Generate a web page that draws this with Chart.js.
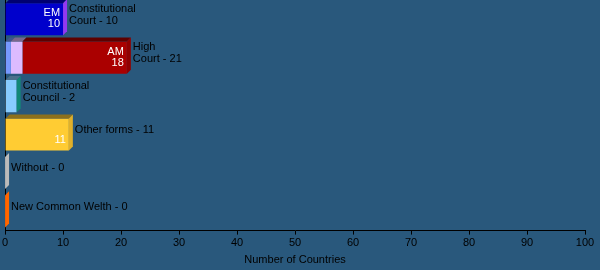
<!DOCTYPE html>
<html>
<head>
<meta charset="utf-8">
<script src="https://cdn.jsdelivr.net/npm/chart.js@4/dist/chart.umd.min.js"></script>
<style>
  html, body { margin: 0; padding: 0; background: #29587c; }
  #wrap { width: 600px; height: 270px; }
</style>
</head>
<body>
<div id="wrap"><canvas id="c" width="600" height="270"></canvas></div>
<script>
// ---- data ----
const categories = ['Constitutional Court', 'High Court', 'Constitutional Council', 'Other forms', 'Without', 'New Common Welth'];
const labelLines = [['Constitutional', 'Court'], ['High', 'Court'], ['Constitutional', 'Council'], ['Other forms'], ['Without'], ['New Common Welth']];
const seg1Values = [10, 1, 2, 11, 0, 0];
const seg2Values = [0, 2, 0, 0, 0, 0];
const seg3Values = [0, 18, 0, 0, 0, 0];
const seg1LabelTop = ['EM', '', '', '', '', ''];
const seg1LabelBottom = ['10', '', '', '11', '', ''];
const seg2LabelTop = ['', '', '', '', '', ''];
const seg2LabelBottom = ['', '', '', '', '', ''];
const seg3LabelTop = ['', 'AM', '', '', '', ''];
const seg3LabelBottom = ['', '18', '', '', '', ''];
const xTicks = [0, 10, 20, 30, 40, 50, 60, 70, 80, 90, 100];
const xTitle = 'Number of Countries';

// ---- styles ----
const BG = '#29587c';
const seg1Colors = ['#0000cc', '#7799ff', '#88ccff', '#ffcc33', '#aaaaaa', '#ff6600'];
const seg2Colors = ['#ddbbff', '#ddbbff', '#ddbbff', '#ddbbff', '#ddbbff', '#ddbbff'];
const seg3Colors = ['#aa0000', '#aa0000', '#aa0000', '#aa0000', '#aa0000', '#aa0000'];
const sideColors = ['#9238f2', '#900000', '#118877', '#e0b02a', '#bbbbbb', '#ff6600'];
const DEPTH = 4;
const FONT = '11px "Liberation Sans", Arial, sans-serif';

const totals = categories.map((_, i) => seg1Values[i] + seg2Values[i] + seg3Values[i]);
const innerTop = [seg1LabelTop, seg2LabelTop, seg3LabelTop];
const innerBottom = [seg1LabelBottom, seg2LabelBottom, seg3LabelBottom];

function darken(hex, f) {
  const n = parseInt(hex.slice(1), 16);
  const r = Math.round(((n >> 16) & 255) * f), g = Math.round(((n >> 8) & 255) * f), b = Math.round((n & 255) * f);
  return 'rgb(' + r + ',' + g + ',' + b + ')';
}

const bgPlugin = {
  id: 'bg',
  beforeDraw(chart) {
    const ctx = chart.ctx;
    ctx.save();
    ctx.fillStyle = BG;
    ctx.fillRect(0, 0, chart.width, chart.height);
    ctx.restore();
  }
};

const threeD = {
  id: 'threeD',
  afterDatasetsDraw(chart) {
    const ctx = chart.ctx;
    const d = DEPTH;
    ctx.save();
    const n = categories.length;
    const dsCount = chart.data.datasets.length;
    // top faces
    for (let di = 0; di < dsCount; di++) {
      const meta = chart.getDatasetMeta(di);
      meta.data.forEach((el, i) => {
        const p = el.getProps(['x', 'y', 'base', 'height'], true);
        const x0 = Math.min(p.base, p.x), x1 = Math.max(p.base, p.x);
        if (x1 - x0 < 0.5) return;
        const top = p.y - p.height / 2;
        const col = chart.data.datasets[di].backgroundColor[i];
        ctx.fillStyle = darken(col, 0.55);
        ctx.beginPath();
        ctx.moveTo(x0, top);
        ctx.lineTo(x0 + d, top - d);
        ctx.lineTo(x1 + d, top - d);
        ctx.lineTo(x1, top);
        ctx.closePath();
        ctx.fill();
      });
    }
    // side faces on the outermost segment
    for (let i = 0; i < n; i++) {
      let outer = 0;
      for (let di = 0; di < dsCount; di++) {
        if (chart.data.datasets[di].data[i] > 0) outer = di;
      }
      const el = chart.getDatasetMeta(outer).data[i];
      const p = el.getProps(['x', 'y', 'base', 'height'], true);
      const x1 = Math.max(p.base, p.x);
      const top = p.y - p.height / 2, bot = p.y + p.height / 2;
      ctx.fillStyle = sideColors[i];
      ctx.beginPath();
      ctx.moveTo(x1, top);
      ctx.lineTo(x1 + d, top - d);
      ctx.lineTo(x1 + d, bot - d);
      ctx.lineTo(x1, bot);
      ctx.closePath();
      ctx.fill();
      // outer label
      const lines = labelLines[i].slice();
      lines[lines.length - 1] = lines[lines.length - 1] + ' - ' + totals[i];
      ctx.fillStyle = '#000000';
      ctx.font = FONT;
      ctx.textAlign = 'left';
      ctx.textBaseline = 'middle';
      const lh = 12;
      const cy = top + 11.5;
      const start = cy - (lines.length - 1) * lh / 2;
      lines.forEach((t, k) => ctx.fillText(t, x1 + d + 2, start + k * lh));
    }
    // inner labels
    ctx.fillStyle = '#ffffff';
    ctx.font = FONT;
    ctx.textAlign = 'right';
    ctx.textBaseline = 'middle';
    for (let di = 0; di < dsCount; di++) {
      const meta = chart.getDatasetMeta(di);
      meta.data.forEach((el, i) => {
        const p = el.getProps(['x', 'y', 'base', 'height'], true);
        const x1 = Math.max(p.base, p.x);
        const top = p.y - p.height / 2;
        if (innerTop[di][i]) ctx.fillText(innerTop[di][i], x1 - 3, top + 10);
        if (innerBottom[di][i]) ctx.fillText(innerBottom[di][i], x1 - 3, top + 21);
      });
    }
    ctx.restore();
  }
};

new Chart(document.getElementById('c'), {
  type: 'bar',
  data: {
    labels: categories,
    datasets: [
      { label: 'seg1', data: seg1Values, backgroundColor: seg1Colors, borderWidth: 0 },
      { label: 'seg2', data: seg2Values, backgroundColor: seg2Colors, borderWidth: 0 },
      { label: 'seg3', data: seg3Values, backgroundColor: seg3Colors, borderWidth: 0 }
    ]
  },
  options: {
    indexAxis: 'y',
    responsive: false,
    maintainAspectRatio: false,
    animation: false,
    layout: { padding: { left: 5, right: 15, top: 0, bottom: 3 } },
    plugins: { legend: { display: false }, tooltip: { enabled: false } },
    datasets: { bar: { barPercentage: 0.835, categoryPercentage: 1.0 } },
    scales: {
      x: {
        stacked: true,
        min: 0, max: 100,
        afterBuildTicks(scale) { scale.ticks = xTicks.map(v => ({ value: v })); },
        grid: { display: true, drawOnChartArea: false, drawTicks: true, tickLength: 4, color: '#000000' },
        border: { display: true, color: '#000000', width: 1 },
        ticks: { color: '#000000', font: { family: '"Liberation Sans", Arial, sans-serif', size: 11 }, padding: 2, maxRotation: 0 },
        title: { display: true, text: xTitle, color: '#000000', font: { family: '"Liberation Sans", Arial, sans-serif', size: 11 }, padding: { top: 2, bottom: 0 } }
      },
      y: {
        stacked: true,
        z: 1,
        afterFit(scale) { scale.width = 0; },
        grid: { display: false },
        border: { display: true, color: '#000000', width: 1 },
        ticks: { display: false }
      }
    }
  },
  plugins: [bgPlugin, threeD]
});
</script>
</body>
</html>
